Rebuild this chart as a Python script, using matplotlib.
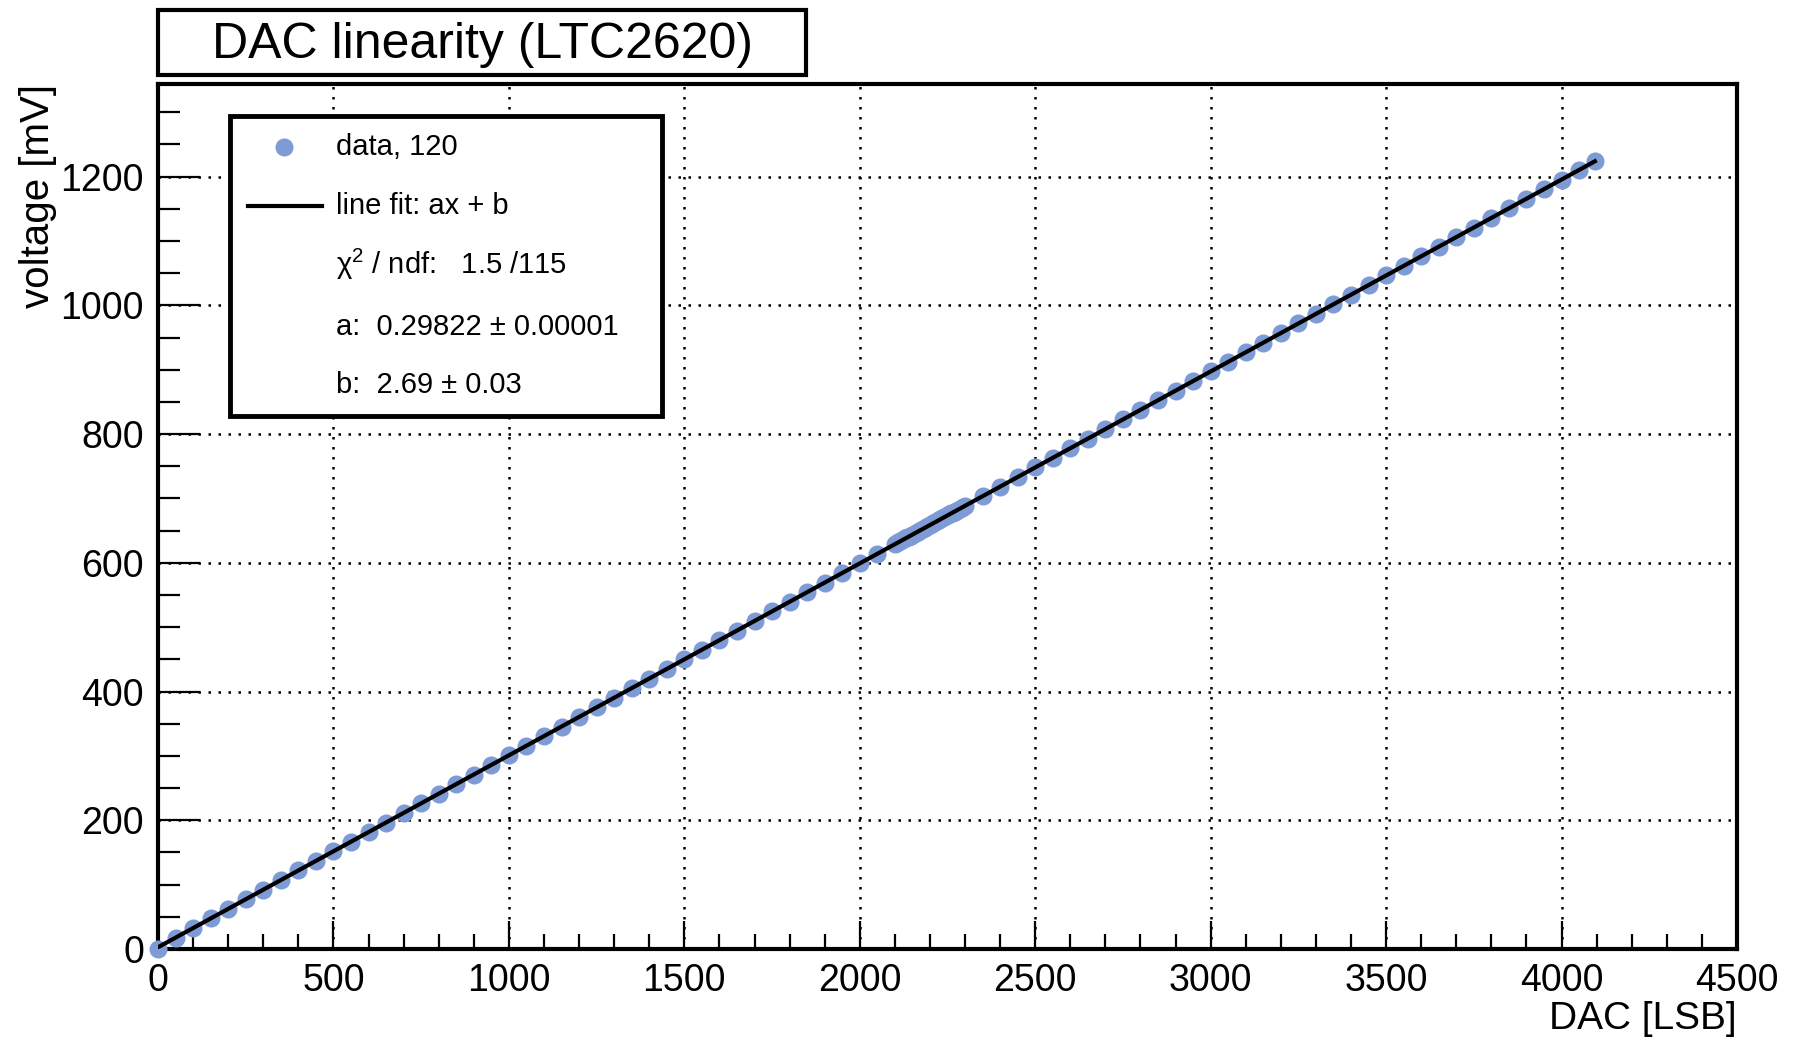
import matplotlib
matplotlib.use("Agg")
import matplotlib.pyplot as plt
from matplotlib.patches import Rectangle
from matplotlib.lines import Line2D
from matplotlib.ticker import MultipleLocator

plt.rcParams['font.family'] = ['Liberation Sans', 'DejaVu Sans']
plt.rcParams['mathtext.fontset'] = 'custom'
plt.rcParams['mathtext.rm'] = 'Liberation Sans'
plt.rcParams['mathtext.it'] = 'Liberation Sans'

# ---------------- data ----------------
dac_main = [0, 50, 100, 150, 200, 250, 300, 350, 400, 450, 500, 550, 600, 650, 700,
            750, 800, 850, 900, 950, 1000, 1050, 1100, 1150, 1200, 1250, 1300, 1350,
            1400, 1450, 1500, 1550, 1600, 1650, 1700, 1750, 1800, 1850, 1900, 1950,
            2000, 2050, 2100, 2150, 2200, 2250, 2300, 2350, 2400, 2450, 2500, 2550,
            2600, 2650, 2700, 2750, 2800, 2850, 2900, 2950, 3000, 3050, 3100, 3150,
            3200, 3250, 3300, 3350, 3400, 3450, 3500, 3550, 3600, 3650, 3700, 3750,
            3800, 3850, 3900, 3950, 4000, 4050, 4095]
mv_main = [0.0, 17.6, 32.5, 47.4, 62.3, 77.2, 92.2, 107.1, 122.0, 136.9, 151.8, 166.7,
           181.6, 196.5, 211.4, 226.4, 241.3, 256.2, 271.1, 286.0, 300.9, 315.8, 330.7,
           345.6, 360.6, 375.5, 390.4, 405.3, 420.2, 435.1, 450.0, 464.9, 479.8, 494.8,
           509.7, 524.6, 539.5, 554.4, 569.3, 584.2, 599.1, 614.0, 629.0, 643.9, 658.8,
           673.7, 688.6, 703.5, 718.4, 733.3, 748.2, 763.2, 778.1, 793.0, 807.9, 822.8,
           837.7, 852.6, 867.5, 882.4, 897.4, 912.3, 927.2, 942.1, 957.0, 971.9, 986.8,
           1001.7, 1016.6, 1031.6, 1046.5, 1061.4, 1076.3, 1091.2, 1106.1, 1121.0,
           1135.9, 1150.8, 1165.8, 1180.7, 1195.6, 1210.5, 1223.9]
dac_fine = [2105, 2110, 2115, 2120, 2125, 2130, 2135, 2140, 2145, 2155, 2160, 2165,
            2170, 2175, 2180, 2185, 2190, 2195, 2205, 2210, 2215, 2220, 2225, 2230,
            2235, 2240, 2245, 2255, 2260, 2265, 2270, 2275, 2280, 2285, 2290, 2295]
mv_fine = [630.4, 631.9, 633.4, 634.9, 636.4, 637.9, 639.4, 640.9, 642.4, 645.4, 646.8,
           648.3, 649.8, 651.3, 652.8, 654.3, 655.8, 657.3, 660.3, 661.8, 663.2, 664.7,
           666.2, 667.7, 669.2, 670.7, 672.2, 675.2, 676.7, 678.2, 679.6, 681.1, 682.6,
           684.1, 685.6, 687.1]

fit_a = 0.29822
fit_b = 2.69
fit_range = [0, 4095]

title_text = "DAC linearity (LTC2620)"
legend_lines = ["data, 120", "line fit: ax + b", "χ$^{2}$ / ndf:   1.5 /115",
                "a:  0.29822 ± 0.00001", "b:  2.69 ± 0.03"]

# ---------------- figure ----------------
W, H = 1798, 1041
fig = plt.figure(figsize=(W / 100, H / 100), dpi=100)
fig.patch.set_facecolor('white')

def fx(px):
    return px / W

def fy(py):
    return 1 - py / H

ax_l, ax_r, ax_t, ax_b = 158, 1737, 84, 949
ax = fig.add_axes([fx(ax_l), fy(ax_b), fx(ax_r - ax_l), (ax_b - ax_t) / H])

pt_color = '#7f9bd6'
ms = 13
ax.plot(dac_main, mv_main, 'o', color=pt_color, markersize=ms, markeredgewidth=0,
        zorder=3, clip_on=False)
ax.plot(dac_fine, mv_fine, 'o', color=pt_color, markersize=ms, markeredgewidth=0,
        zorder=3, clip_on=False)
fy_line = [fit_a * v + fit_b for v in fit_range]
ax.plot(fit_range, fy_line, '-', color='black', lw=3.0, zorder=4)

ax.set_xlim(0, 4500)
ax.set_ylim(0, 1344)
ax.xaxis.set_major_locator(MultipleLocator(500))
ax.xaxis.set_minor_locator(MultipleLocator(100))
ax.yaxis.set_major_locator(MultipleLocator(200))
ax.yaxis.set_minor_locator(MultipleLocator(50))
ax.grid(which='major', color='black', linestyle=(0, (1, 3)), linewidth=1.8, zorder=1)
ax.set_axisbelow(True)

ax.tick_params(axis='x', which='major', direction='in', length=20, width=1.6,
               labelsize=27, pad=10, top=False)
ax.tick_params(axis='x', which='minor', direction='in', length=11, width=1.6, top=False)
ax.tick_params(axis='y', which='major', direction='in', length=30, width=1.6,
               labelsize=27, pad=10, right=False)
ax.tick_params(axis='y', which='minor', direction='in', length=16, width=1.6, right=False)
for s in ax.spines.values():
    s.set_linewidth(3.0)

fig.text(fx(1737), fy(1019), "DAC [LSB]", ha='right', va='center', fontsize=28)
fig.text(fx(38), fy(84), "voltage [mV]", ha='center', va='top', rotation=90, fontsize=29)

# title box
fig.patches.append(Rectangle((fx(158), fy(75)), fx(806 - 158), (75 - 10) / H,
                             transform=fig.transFigure, facecolor='white',
                             edgecolor='black', linewidth=3.0))
fig.text(fx(483), fy(45), title_text, ha='center', va='center', fontsize=36)

# legend box
lx0, lx1, ly0, ly1 = 230, 662, 116, 416
fig.patches.append(Rectangle((fx(lx0), fy(ly1)), fx(lx1 - lx0), (ly1 - ly0) / H,
                             transform=fig.transFigure, facecolor='white',
                             edgecolor='black', linewidth=3.5, zorder=10))
rows_y = [147, 206, 264, 327, 385]
fig.lines.append(Line2D([fx(284)], [fy(147)], marker='o', color=pt_color,
                        markersize=ms, markeredgewidth=0, transform=fig.transFigure, zorder=11))
fig.lines.append(Line2D([fx(248), fx(322)], [fy(206), fy(206)], color='black', lw=3.0,
                        transform=fig.transFigure, zorder=11))
for t, yy in zip(legend_lines, rows_y):
    fig.text(fx(336), fy(yy), t, ha='left', va='center', fontsize=21, zorder=12)

fig.savefig("out.png", dpi=100)
